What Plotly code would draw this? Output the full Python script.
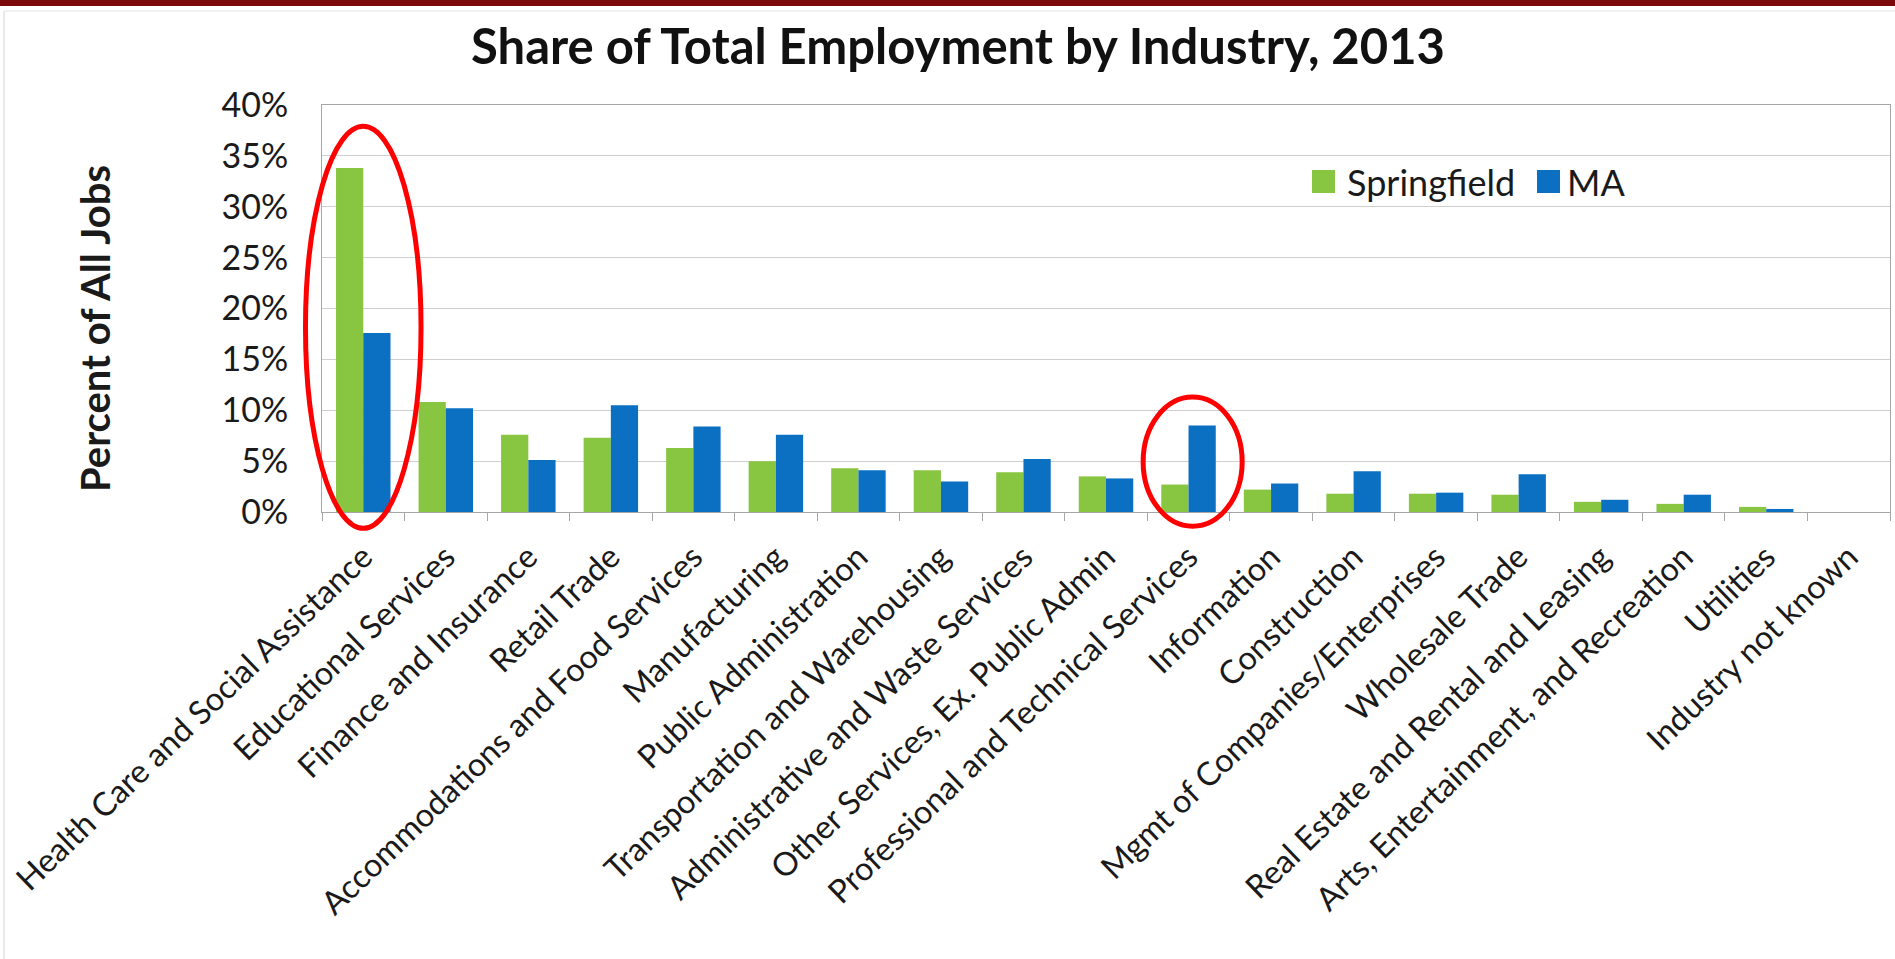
import plotly.graph_objects as go

# Share of total employment (%) by industry, 2013
industries = [
    "Health Care and Social Assistance", "Educational Services", "Finance and Insurance",
    "Retail Trade", "Accommodations and Food Services", "Manufacturing",
    "Public Administration", "Transportation and Warehousing",
    "Administrative and Waste Services", "Other Services, Ex. Public Admin",
    "Professional and Technical Services", "Information", "Construction",
    "Mgmt of Companies/Enterprises", "Wholesale Trade",
    "Real Estate and Rental and Leasing", "Arts, Entertainment, and Recreation",
    "Utilities", "Industry not known",
]
springfield = [33.8, 10.8, 7.6, 7.3, 6.3, 5.0, 4.3, 4.1, 3.9, 3.5, 2.7, 2.2, 1.8, 1.8, 1.7, 1.0, 0.8, 0.5, 0.0]
ma = [17.6, 10.2, 5.1, 10.5, 8.4, 7.6, 4.1, 3.0, 5.2, 3.3, 8.5, 2.8, 4.0, 1.9, 3.7, 1.2, 1.7, 0.3, 0.0]

GREEN = "#88c540"
BLUE = "#0b6fc2"

# page layout (pixels)
W, H = 1895, 959
L, R, T, B = 322, 5, 105, 447
PW, PH = W - L - R, H - T - B
FONT = "Lato, 'Open Sans', sans-serif"


def px_x(px):
    return (px - L) / PW


def px_y(py):
    return (H - B - py) / PH


n = len(industries)


def cat_x(i):
    return (i + 0.5) / n


fig = go.Figure()
fig.add_trace(go.Bar(x=industries, y=springfield, name="Springfield",
                     marker=dict(color=GREEN, line=dict(width=0))))
fig.add_trace(go.Bar(x=industries, y=ma, name="MA",
                     marker=dict(color=BLUE, line=dict(width=0))))

shapes = [
    # maroon band at top of the slide
    dict(type="rect", xref="paper", yref="paper", layer="above",
         x0=px_x(0), x1=px_x(W), y0=px_y(0), y1=px_y(6),
         fillcolor="#7d0a0a", line=dict(width=0)),
    # faint slide frame
    dict(type="line", xref="paper", yref="paper",
         x0=px_x(4), x1=px_x(4), y0=px_y(11), y1=px_y(H),
         line=dict(color="#d4d4d4", width=1)),
    dict(type="line", xref="paper", yref="paper",
         x0=px_x(4), x1=px_x(W), y0=px_y(11), y1=px_y(11),
         line=dict(color="#e4e4e4", width=1)),
    # red highlight ellipses
    dict(type="circle", xref="paper", yref="paper", layer="above",
         x0=cat_x(0) - 0.70 / n, x1=cat_x(0) + 0.70 / n,
         y0=-1.6 / 40, y1=37.9 / 40,
         line=dict(color="#ff0000", width=5)),
    dict(type="circle", xref="paper", yref="paper", layer="above",
         x0=cat_x(10) - 0.55 / n, x1=cat_x(10) + 0.65 / n,
         y0=-1.4 / 40, y1=11.3 / 40,
         line=dict(color="#ff0000", width=5)),
    # legend swatches
    dict(type="rect", xref="paper", yref="paper",
         x0=px_x(1312), x1=px_x(1335), y0=px_y(193), y1=px_y(170),
         fillcolor=GREEN, line=dict(width=0)),
    dict(type="rect", xref="paper", yref="paper",
         x0=px_x(1537), x1=px_x(1560), y0=px_y(193), y1=px_y(170),
         fillcolor=BLUE, line=dict(width=0)),
]

annotations = [
    dict(text="Springfield", xref="paper", yref="paper", x=px_x(1345), y=px_y(182),
         xanchor="left", yanchor="middle", showarrow=False,
         font=dict(size=36, color="#1a1a1a")),
    dict(text="MA", xref="paper", yref="paper", x=px_x(1565), y=px_y(182),
         xanchor="left", yanchor="middle", showarrow=False,
         font=dict(size=36, color="#1a1a1a")),
    dict(text="<b>Percent of All Jobs</b>", xref="paper", yref="paper",
         x=px_x(95), y=px_y(329), xanchor="center", yanchor="middle",
         textangle=-90, showarrow=False, font=dict(size=40, color="#1a1a1a")),
]

fig.update_layout(
    width=W, height=H,
    margin=dict(l=L, r=R, t=T, b=B, pad=0),
    paper_bgcolor="white", plot_bgcolor="white",
    font=dict(family=FONT, color="#1a1a1a"),
    title=dict(text="<b>Share of Total Employment by Industry, 2013</b>",
               x=px_x(958), xref="paper", xanchor="center",
               y=1 - 47 / H, yanchor="middle",
               font=dict(size=49, color="#111111")),
    barmode="group", bargap=0.34, bargroupgap=0,
    showlegend=False,
    shapes=shapes, annotations=annotations,
)

fig.update_xaxes(
    type="category", tickangle=-44, tickfont=dict(size=32.5, color="#1a1a1a"),
    ticklabelstandoff=12,
    showline=True, linecolor="#a6a6a6", linewidth=1, mirror=True,
    ticks="outside", tickson="boundaries", ticklen=8, tickcolor="#a6a6a6",
    showgrid=False, automargin=False,
)
fig.update_yaxes(
    range=[0, 40], dtick=5, ticksuffix="%",
    tickfont=dict(size=34, color="#1a1a1a"), ticklabelstandoff=26,
    showline=True, linecolor="#a6a6a6", linewidth=1, mirror=True,
    showgrid=True, gridcolor="#cfcfcf", gridwidth=1, zeroline=False,
    automargin=False,
)

fig.write_html(
    "out.html",
    config={"displayModeBar": False},
    post_script="document.body.style.margin='0';"
                "document.body.style.overflow='hidden';"
                "document.documentElement.style.overflow='hidden';",
)
